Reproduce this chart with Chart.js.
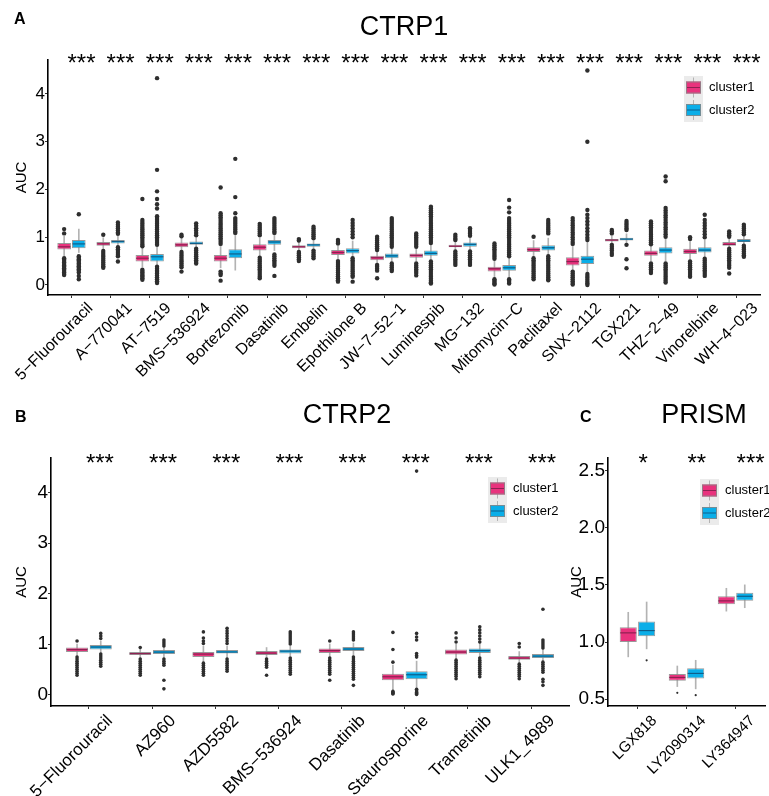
<!DOCTYPE html>
<html><head><meta charset="utf-8">
<script src="https://cdn.jsdelivr.net/npm/chart.js@4.4.1/dist/chart.umd.min.js"></script>
<style>
html,body{margin:0;padding:0;background:#fff;width:769px;height:796px;overflow:hidden;}
.wrap{position:absolute;}
</style></head><body>
<div class="wrap" style="left:0;top:0;width:769px;height:390px"><canvas id="cA"></canvas></div>
<div class="wrap" style="left:0;top:390px;width:575px;height:406px"><canvas id="cB"></canvas></div>
<div class="wrap" style="left:566px;top:390px;width:203px;height:406px"><canvas id="cC"></canvas></div>
<script>
// ---------------- DATA ----------------
const seriesNames = ['cluster1', 'cluster2'];

// Panel A: CTRP1
const drugsA = ['5\u2212Fluorouracil','A\u2212770041','AT\u22127519','BMS\u2212536924','Bortezomib','Dasatinib','Embelin','Epothilone B','JW\u22127\u221252\u22121','Luminespib','MG\u2212132','Mitomycin\u2212C','Paclitaxel','SNX\u22122112','TGX221','THZ\u22122\u221249','Vinorelbine','WH\u22124\u2212023'];
const starsA = ['***','***','***','***','***','***','***','***','***','***','***','***','***','***','***','***','***','***'];
const a1Lo  = [0.60,0.76,0.38,0.72,0.36,0.60,0.72,0.55,0.46,0.50,0.72,0.16,0.58,0.30,0.86,0.50,0.53,0.78];
const a1Q1  = [0.74,0.82,0.49,0.79,0.49,0.72,0.77,0.63,0.52,0.57,0.79,0.28,0.69,0.41,0.91,0.61,0.65,0.82];
const a1Med = [0.80,0.86,0.56,0.84,0.56,0.79,0.80,0.68,0.57,0.62,0.81,0.34,0.74,0.49,0.94,0.66,0.70,0.85];
const a1Q3  = [0.88,0.90,0.63,0.89,0.63,0.85,0.83,0.73,0.61,0.66,0.84,0.38,0.79,0.58,0.96,0.72,0.76,0.90];
const a1Hi  = [1.02,0.99,0.78,1.00,0.82,0.98,0.90,0.84,0.70,0.75,0.91,0.50,0.93,0.82,1.03,0.82,0.91,0.98];
const a2Lo  = [0.68,0.82,0.40,0.79,0.31,0.72,0.74,0.58,0.48,0.52,0.72,0.16,0.62,0.26,0.87,0.50,0.58,0.86];
const a2Q1  = [0.77,0.87,0.49,0.84,0.56,0.84,0.80,0.66,0.56,0.61,0.80,0.30,0.72,0.44,0.93,0.66,0.68,0.90];
const a2Med = [0.86,0.91,0.59,0.87,0.65,0.90,0.84,0.72,0.61,0.66,0.85,0.36,0.78,0.54,0.96,0.73,0.73,0.92];
const a2Q3  = [0.94,0.94,0.65,0.91,0.75,0.94,0.87,0.77,0.66,0.72,0.89,0.42,0.83,0.61,0.99,0.79,0.79,0.96];
const a2Hi  = [1.17,1.03,0.80,0.99,1.06,1.06,0.95,0.92,0.78,0.86,0.98,0.56,0.98,0.90,1.07,0.96,0.94,1.03];
const a1Out = [
  [1.08,1.17,0.56,0.53,0.50,0.47,0.44,0.41,0.38,0.35,0.32,0.29,0.26,0.23,0.21],
  [1.05,0.71,0.67,0.63,0.59,0.55,0.51,0.47,0.43,0.39,0.36],
  [1.80,1.36,1.32,1.28,1.24,1.20,1.16,1.12,1.08,1.04,1.00,0.96,0.92,0.88,0.84,0.81,0.32,0.29,0.26,0.23,0.20,0.17,0.14,0.11],
  [1.05,1.02,0.69,0.65,0.61,0.57,0.53,0.49,0.45,0.41,0.37,0.28],
  [2.04,1.50,1.46,1.42,1.38,1.34,1.30,1.26,1.22,1.18,1.14,1.10,1.06,1.02,0.98,0.94,0.90,0.86,0.28,0.24,0.21,0.09],
  [1.28,1.24,1.20,1.16,1.12,1.08,1.04,0.57,0.53,0.49,0.45,0.41,0.37,0.33,0.29,0.25,0.21,0.17,0.14],
  [0.96,0.93,0.69,0.66,0.62,0.58,0.54,0.50],
  [0.94,0.90,0.87,0.50,0.46,0.42,0.38,0.34,0.30,0.26,0.22,0.18,0.14,0.10,0.07],
  [1.01,0.97,0.93,0.89,0.85,0.81,0.77,0.73,0.42,0.38,0.34,0.30,0.14],
  [1.08,1.04,1.00,0.96,0.92,0.88,0.84,0.80,0.45,0.41,0.37,0.33,0.29,0.25,0.20],
  [1.05,1.01,0.97,0.94,0.70,0.66,0.62,0.58,0.54,0.50,0.46,0.42],
  [0.87,0.83,0.79,0.75,0.71,0.67,0.63,0.59,0.55,0.12,0.09,0.06,0.03,0.01],
  [1.01,0.56,0.52,0.48,0.44,0.40,0.36,0.32,0.28,0.24,0.20,0.16,0.12],
  [1.40,1.35,1.30,1.25,1.20,1.15,1.10,1.05,1.00,0.95,0.90,0.86,0.28,0.24,0.20,0.16,0.12,0.08,0.04,0.01],
  [1.15,1.12,1.08,0.84,0.80,0.76,0.72,0.67,0.63],
  [1.33,1.29,1.25,1.21,1.17,1.13,1.09,1.05,1.01,0.97,0.93,0.89,0.85,0.45,0.41,0.37,0.33,0.29,0.25],
  [1.00,0.96,0.49,0.45,0.41,0.37,0.33,0.29,0.25,0.21,0.17],
  [1.12,1.08,1.04,1.01,0.76,0.72,0.68,0.64,0.60,0.56,0.52,0.48,0.44,0.40,0.36,0.24]
];
const a2Out = [
  [1.48,0.60,0.57,0.54,0.51,0.48,0.45,0.42,0.39,0.36,0.33,0.30,0.26,0.19,0.12],
  [1.31,1.26,1.22,1.18,1.14,1.10,1.07,0.79,0.75,0.71,0.67,0.63,0.60,0.49],
  [4.33,2.41,1.96,1.80,1.69,1.60,1.44,1.40,1.36,1.32,1.28,1.24,1.20,1.16,1.12,1.08,1.04,1.00,0.96,0.92,0.88,0.84,0.38,0.34,0.30,0.27,0.24,0.20,0.16,0.12,0.08,0.04],
  [1.29,1.24,1.19,1.14,1.09,1.04,0.76,0.72,0.68,0.64,0.60,0.56,0.52,0.48,0.45],
  [2.64,1.84,1.50,1.40,1.36,1.32,1.28,1.24,1.20,1.16,1.12,1.09],
  [1.40,1.36,1.32,1.28,1.24,1.20,1.16,1.12,1.09,0.64,0.60,0.56,0.52,0.48,0.44,0.40,0.19],
  [1.22,1.18,1.14,1.10,1.06,1.02,0.98,0.72,0.68,0.64,0.60,0.56],
  [1.36,1.30,1.24,1.18,1.12,1.06,1.00,0.56,0.52,0.48,0.44,0.40,0.36,0.32,0.28,0.24,0.20,0.17,0.07],
  [1.40,1.36,1.32,1.28,1.24,1.20,1.16,1.12,1.08,1.04,1.00,0.96,0.92,0.88,0.84,0.80,0.45,0.41,0.37,0.33,0.29],
  [1.64,1.60,1.56,1.52,1.48,1.44,1.40,1.36,1.32,1.28,1.24,1.20,1.16,1.12,1.08,1.04,1.00,0.96,0.92,0.88,0.49,0.45,0.41,0.37,0.33,0.29,0.25,0.21,0.17,0.13,0.09,0.05,0.03],
  [1.19,1.15,1.11,1.07,1.03,0.70,0.66,0.62,0.58,0.54,0.50,0.46,0.42],
  [1.78,1.62,1.52,1.40,1.36,1.32,1.28,1.24,1.20,1.16,1.12,1.08,1.04,1.00,0.96,0.92,0.88,0.84,0.80,0.76,0.72,0.68,0.64,0.60,0.12,0.09,0.06,0.03],
  [1.36,1.32,1.28,1.24,1.20,1.16,1.12,1.08,0.60,0.56,0.52,0.48,0.44,0.40,0.36,0.32,0.28,0.24,0.20,0.16,0.12,0.10],
  [4.49,3.00,1.57,1.47,1.40,1.33,1.26,1.19,1.12,1.05,0.99,0.94,0.23,0.19,0.15,0.11,0.07,0.03,0.00],
  [1.34,1.30,1.26,1.22,1.18,1.15,0.84,0.54,0.35],
  [2.27,2.17,1.61,1.56,1.51,1.46,1.41,1.36,1.31,1.26,1.21,1.16,1.11,1.06,1.01,0.45,0.41,0.37,0.33,0.29,0.25,0.21,0.17,0.13,0.09,0.05],
  [1.47,1.36,1.30,1.24,1.18,1.12,1.06,1.00,0.55,0.51,0.47,0.43,0.39,0.35,0.31,0.27,0.23,0.19],
  [1.26,1.22,1.18,1.14,1.10,1.06,0.82,0.78,0.74,0.70,0.66,0.62,0.59]
];
const yTicksA = [0, 1, 2, 3, 4];

// Panel B: CTRP2
const drugsB = ['5\u2212Fluorouracil','AZ960','AZD5582','BMS\u2212536924','Dasatinib','Staurosporine','Trametinib','ULK1_4989'];
const starsB = ['***','***','***','***','***','***','***','***'];
const b1Lo  = [0.76,0.72,0.64,0.72,0.74,0.08,0.70,0.62];
const b1Q1  = [0.84,0.78,0.74,0.78,0.82,0.28,0.79,0.69];
const b1Med = [0.89,0.81,0.80,0.82,0.87,0.35,0.84,0.72];
const b1Q3  = [0.93,0.84,0.84,0.86,0.91,0.41,0.89,0.76];
const b1Hi  = [1.00,0.90,0.96,0.93,1.00,0.58,1.00,0.85];
const b2Lo  = [0.82,0.72,0.72,0.76,0.76,0.12,0.72,0.64];
const b2Q1  = [0.89,0.80,0.81,0.81,0.86,0.30,0.82,0.72];
const b2Med = [0.94,0.84,0.84,0.86,0.90,0.39,0.87,0.76];
const b2Q3  = [0.98,0.88,0.88,0.89,0.94,0.46,0.91,0.80];
const b2Hi  = [1.06,0.96,0.96,0.96,1.02,0.66,1.02,0.90];
const b1Out = [
  [1.06,0.74,0.70,0.66,0.62,0.58,0.54,0.50,0.46,0.42,0.38],
  [0.93,0.70,0.66,0.62,0.58,0.54,0.50,0.46,0.42,0.38],
  [1.24,1.12,1.06,1.01,0.62,0.58,0.54,0.50,0.46,0.42,0.38],
  [0.70,0.66,0.62,0.58,0.54,0.38],
  [1.06,0.72,0.68,0.64,0.60,0.56,0.52,0.48,0.44,0.40,0.28],
  [1.23,0.89,0.64,0.06,0.04,0.02,0.01],
  [1.22,1.12,1.04,0.68,0.64,0.60,0.56,0.52,0.48,0.44,0.40,0.36,0.31],
  [1.01,0.94,0.60,0.56,0.52,0.48,0.44,0.40,0.36,0.31]
];
const b2Out = [
  [1.21,1.16,1.11,0.80,0.76,0.72,0.68,0.64,0.60,0.56],
  [1.08,1.04,1.00,0.96,0.70,0.66,0.62,0.58,0.28,0.11],
  [1.31,1.26,1.21,1.16,1.11,1.06,1.01,0.70,0.66,0.62,0.58,0.54,0.50,0.46],
  [1.24,1.20,1.16,1.12,1.08,1.04,1.00,0.72,0.68,0.64,0.60,0.56,0.52,0.48,0.44,0.40],
  [1.24,1.20,1.16,1.12,1.08,0.74,0.70,0.66,0.62,0.58,0.54,0.50,0.46,0.42,0.38,0.34,0.30,0.18],
  [4.43,1.21,1.14,1.08,0.81,0.77,0.74,0.10,0.07,0.04,0.02,0.00],
  [1.34,1.28,1.22,1.16,1.10,1.04,0.72,0.68,0.64,0.60,0.56,0.52,0.48,0.44,0.40,0.35],
  [1.69,1.08,1.04,1.00,0.96,0.92,0.64,0.60,0.56,0.52,0.48,0.44,0.30,0.25,0.18]
];
const yTicksB = [0, 1, 2, 3, 4];

// Panel C: PRISM
const drugsC = ['LGX818','LY2090314','LY364947'];
const starsC = ['*','**','***'];
const c1Lo  = [0.87,0.61,1.27];
const c1Q1  = [1.00,0.66,1.33];
const c1Med = [1.08,0.69,1.36];
const c1Q3  = [1.13,0.72,1.40];
const c1Hi  = [1.26,0.79,1.47];
const c2Lo  = [0.94,0.59,1.30];
const c2Q1  = [1.05,0.68,1.36];
const c2Med = [1.10,0.725,1.40];
const c2Q3  = [1.18,0.77,1.43];
const c2Hi  = [1.35,0.84,1.50];
const c1Out = [[],[0.555],[]];
const c2Out = [[0.84],[0.535],[]];
const yTicksC = [0.5, 1.0, 1.5, 2.0, 2.5];

// ---------------- STYLE ----------------
const FONT = '"Liberation Sans", Arial, Helvetica, sans-serif';
const FILL = ['#E8337D', '#0BAEE8'];
const MEDC = ['#8E2152', '#0E5F8B'];
const BOXLINE = 'rgba(135,135,135,0.85)';
const WHISK = '#b3b3b3';
const PT = '#2e2e2e';
const OFF = 0.1875;
Chart.defaults.font.family = FONT;

const decor = {
  id: 'decor',
  afterDraw(chart, args, o) {
    const ctx = chart.ctx, xs = chart.scales.x;
    ctx.save();
    ctx.fillStyle = '#000';
    ctx.textBaseline = 'alphabetic';
    ctx.font = 'bold 16px ' + FONT; ctx.textAlign = 'left';
    ctx.fillText(o.tag, o.tagX, o.tagY);
    ctx.font = '27px ' + FONT; ctx.textAlign = 'center';
    ctx.fillText(o.title, o.titleX, o.titleY);
    ctx.font = '24px ' + FONT; ctx.textAlign = 'left';
    o.stars.forEach((s, i) => ctx.fillText(s, xs.getPixelForValue(i + 1) + o.starDx, o.starY));
    // legend
    const x0 = o.legX, y0 = o.legY;
    ctx.fillStyle = '#ebebeb';
    ctx.fillRect(x0, y0, 19, 46);
    seriesNames.forEach((nm, r) => {
      const cy = y0 + 11.5 + r * 22.5, cx = x0 + 9.5;
      ctx.strokeStyle = WHISK; ctx.lineWidth = 1;
      ctx.beginPath(); ctx.moveTo(cx, cy - 10); ctx.lineTo(cx, cy + 10); ctx.stroke();
      ctx.fillStyle = FILL[r];
      ctx.fillRect(x0 + 2, cy - 6, 15, 12);
      ctx.strokeStyle = BOXLINE; ctx.strokeRect(x0 + 2.5, cy - 5.5, 14, 11);
      ctx.strokeStyle = MEDC[r]; ctx.beginPath(); ctx.moveTo(x0 + 3, cy); ctx.lineTo(x0 + 16, cy); ctx.stroke();
      ctx.fillStyle = '#000'; ctx.font = '13px ' + FONT; ctx.textAlign = 'left'; ctx.textBaseline = 'middle';
      ctx.fillText(nm, x0 + 25, cy);
    });
    ctx.restore();
  }
};

function buildPanel(id, p) {
  const groups = [
    {lo: p.lo[0], q1: p.q1[0], med: p.med[0], q3: p.q3[0], hi: p.hi[0], out: p.out[0], dx: -OFF, k: 0},
    {lo: p.lo[1], q1: p.q1[1], med: p.med[1], q3: p.q3[1], hi: p.hi[1], out: p.out[1], dx: OFF, k: 1}
  ];
  const halfW = (chart) => {
    const s = chart.scales.x;
    return (s.getPixelForValue(1 + 2 * OFF) - s.getPixelForValue(1)) * 0.93 / 2 - 0.5;
  };
  const ds = [];
  groups.forEach(g => ds.push({
    type: 'bar', label: seriesNames[g.k] + ' whisker',
    data: g.lo.map((v, i) => ({x: i + 1 + g.dx, y: [v, g.hi[i]]})),
    backgroundColor: WHISK, barThickness: 1, grouped: false, order: 4
  }));
  groups.forEach(g => ds.push({
    type: 'bar', label: seriesNames[g.k],
    data: g.q1.map((v, i) => ({x: i + 1 + g.dx, y: [v, g.q3[i]]})),
    backgroundColor: FILL[g.k], borderColor: BOXLINE, borderWidth: 1, borderSkipped: false,
    categoryPercentage: 1, barPercentage: 0.93, grouped: false, order: 3
  }));
  groups.forEach(g => ds.push({
    type: 'scatter', label: seriesNames[g.k] + ' median',
    data: g.med.map((v, i) => ({x: i + 1 + g.dx, y: v})),
    pointStyle: 'line', radius: (c) => halfW(c.chart), borderColor: MEDC[g.k], borderWidth: 1.2, order: 2
  }));
  groups.forEach(g => {
    const pts = [];
    g.out.forEach((arr, i) => arr.forEach(v => pts.push({x: i + 1 + g.dx, y: v})));
    ds.push({type: 'scatter', label: seriesNames[g.k] + ' outliers', data: pts,
      pointStyle: 'circle', radius: p.ptR, backgroundColor: PT, borderWidth: 0, order: 1});
  });
  const tickGrid = {display: true, offset: false, drawOnChartArea: false, drawTicks: true, tickLength: 3, color: '#333', tickColor: '#333'};
  new Chart(document.getElementById(id), {
    type: 'bar',
    data: {datasets: ds},
    options: {
      responsive: true, maintainAspectRatio: false, animation: false, events: [],
      layout: {padding: {top: p.padTop, right: p.padRight, left: 0, bottom: 0}},
      plugins: {legend: {display: false}, tooltip: {enabled: false}, decor: p.decor},
      scales: {
        x: {
          type: 'linear', offset: false, stacked: false, min: 0.4, max: p.labels.length + 0.6,
          afterBuildTicks: s => { s.ticks = p.labels.map((_, i) => ({value: i + 1})); },
          afterFit: s => { s.height = p.xH; s.paddingLeft = 0; s.paddingRight = 0; },
          ticks: {autoSkip: false, minRotation: 45, maxRotation: 45, labelOffset: p.labOff, padding: p.labPad,
            color: '#000', font: {size: p.xFont, family: FONT}, callback: (v, i) => p.labels[i]},
          grid: tickGrid,
          border: {display: true, color: '#000', width: 1.6}
        },
        y: {
          type: 'linear', stacked: false, min: p.yMin, max: p.yMax,
          afterBuildTicks: s => { s.ticks = p.yTicks.map(v => ({value: v})); },
          afterFit: s => { s.width = p.yW; s.paddingTop = 0; s.paddingBottom = 0; },
          ticks: {color: '#000', padding: 0, font: {size: p.yFont, family: FONT}, callback: v => p.yFmt(v)},
          grid: tickGrid,
          border: {display: true, color: '#000', width: 1.6},
          title: {display: true, text: 'AUC', color: '#000', font: {size: 15, family: FONT}, padding: {top: p.titlePad, bottom: 0}}
        }
      }
    },
    plugins: [decor]
  });
}

buildPanel('cA', {
  labels: drugsA, lo: [a1Lo, a2Lo], q1: [a1Q1, a2Q1], med: [a1Med, a2Med], q3: [a1Q3, a2Q3], hi: [a1Hi, a2Hi], out: [a1Out, a2Out],
  yMin: -0.21, yMax: 4.71, yTicks: yTicksA, yFmt: v => String(v), ptR: 2.2,
  padTop: 60, padRight: 9, yW: 48, xH: 95, labOff: 19, labPad: 1, xFont: 16, yFont: 17, titlePad: 13,
  decor: {tag: 'A', tagX: 14, tagY: 24, title: 'CTRP1', titleX: 404, titleY: 35, stars: starsA, starDx: -4, starY: 71, legX: 684, legY: 76}
});
buildPanel('cB', {
  labels: drugsB, lo: [b1Lo, b2Lo], q1: [b1Q1, b2Q1], med: [b1Med, b2Med], q3: [b1Q3, b2Q3], hi: [b1Hi, b2Hi], out: [b1Out, b2Out],
  yMin: -0.23, yMax: 4.69, yTicks: yTicksB, yFmt: v => String(v), ptR: 1.8,
  padTop: 68, padRight: 6, yW: 51, xH: 90, labOff: 21, labPad: 2, xFont: 17, yFont: 19, titlePad: 13,
  decor: {tag: 'B', tagX: 15, tagY: 32, title: 'CTRP2', titleX: 347, titleY: 33, stars: starsB, starDx: -3, starY: 81, legX: 488, legY: 87}
});
buildPanel('cC', {
  labels: drugsC, lo: [c1Lo, c2Lo], q1: [c1Q1, c2Q1], med: [c1Med, c2Med], q3: [c1Q3, c2Q3], hi: [c1Hi, c2Hi], out: [c1Out, c2Out],
  yMin: 0.44, yMax: 2.61, yTicks: yTicksC, yFmt: v => v.toFixed(1), ptR: 1.1,
  padTop: 68, padRight: 1, yW: 42, xH: 90, labOff: 17, labPad: 3, xFont: 15, yFont: 19, titlePad: 2,
  decor: {tag: 'C', tagX: 14, tagY: 32, title: 'PRISM', titleX: 138, titleY: 33, stars: starsC, starDx: 1, starY: 81, legX: 134, legY: 89}
});
</script>
</body></html>
